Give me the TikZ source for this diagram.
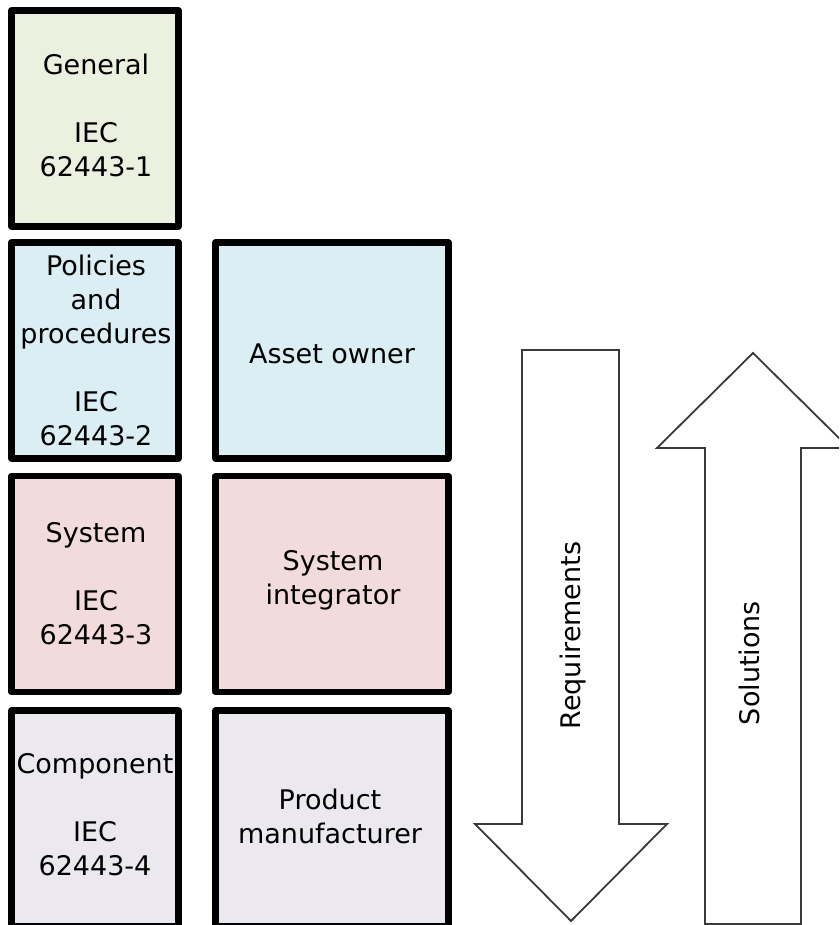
\documentclass[tikz,border=0pt]{standalone}
\usepackage{fontspec}
\setmainfont{DejaVu Sans}

\definecolor{genfill}{HTML}{EBF1DE}
\definecolor{polfill}{HTML}{DAEEF3}
\definecolor{sysfill}{HTML}{F2DCDB}
\definecolor{compfill}{HTML}{EBE8F0}
\definecolor{arrowline}{HTML}{3A3A3A}

\tikzset{
  part/.style={draw=black, line width=6.5pt, line join=round, inner sep=0pt},
  leftpart/.style={part, minimum width=167pt, minimum height=216pt},
  rightpart/.style={part, minimum width=233pt, minimum height=216pt},
  lbl/.style={anchor=base, inner sep=0pt, font=\fontsize{27}{34}\selectfont},
  bigarrow/.style={draw=arrowline, line width=1.8pt, fill=white, line join=miter},
}

\newcommand{\stackedlines}[1]{\begin{tabular}[t]{@{}c@{}}#1\end{tabular}}

\begin{document}
\begin{tikzpicture}[x=1pt, y=-1pt]
  \useasboundingbox (0,0) rectangle (839,925);
  \clip (0,0) rectangle (839,925);

  % left column: the four parts of the standard
  \node[leftpart, fill=genfill]  (general)   at (95,118.5) {};
  \node[leftpart, fill=polfill]  (policies)  at (95,350.5) {};
  \node[leftpart, fill=sysfill]  (system)    at (95,584)   {};
  \node[leftpart, fill=compfill] (component) at (95,818.5) {};

  % right column: the roles
  \node[rightpart, fill=polfill]  (owner)       at (332,350.5) {};
  \node[rightpart, fill=sysfill]  (integrator)  at (332,584)   {};
  \node[rightpart, fill=compfill] (manufacturer) at (332,818.5) {};

  % texts of the parts
  \node[lbl] (general-t)   at (96,75)  {\stackedlines{General\\ \\IEC\\62443-1}};
  \node[lbl] (policies-t)  at (96,275) {\stackedlines{Policies\\and\\procedures\\ \\IEC\\62443-2}};
  \node[lbl] (system-t)    at (96,542) {\stackedlines{System\\ \\IEC\\62443-3}};
  \node[lbl] (component-t) at (95,773) {\stackedlines{Component\\ \\IEC\\62443-4}};

  % texts of the roles
  \node[lbl] (owner-t)        at (332,363) {Asset owner};
  \node[lbl] (integrator-t)   at (333,570) {\stackedlines{System\\integrator}};
  \node[lbl] (manufacturer-t) at (330,809) {\stackedlines{Product\\manufacturer}};

  % block arrows
  \draw[bigarrow] (522,350) -- (619,350) -- (619,824) -- (667,824)
    -- (571,921) -- (475,824) -- (522,824) -- cycle;
  \draw[bigarrow] (705,924) -- (705,448) -- (657,448) -- (753,353)
    -- (849,448) -- (801,448) -- (801,924) -- cycle;

  \node[lbl, rotate=90] (requirements) at (580,635.5) {Requirements};
  \node[lbl, rotate=90] (solutions)    at (759,663)   {Solutions};
\end{tikzpicture}
\end{document}
